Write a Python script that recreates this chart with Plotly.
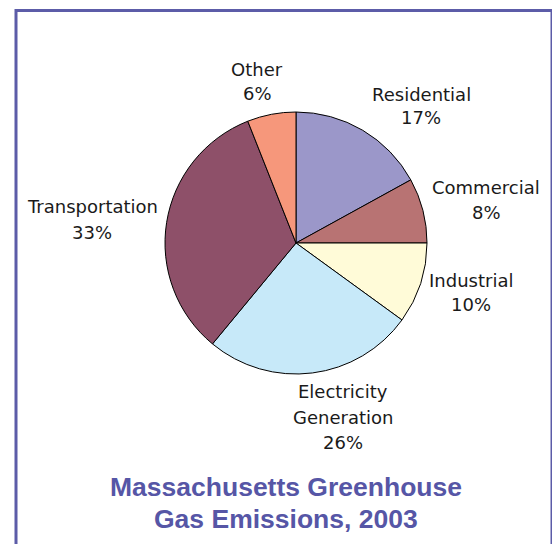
import plotly.graph_objects as go

categories = ["Residential", "Commercial", "Industrial", "Electricity Generation", "Transportation", "Other"]
values = [17, 8, 10, 26, 33, 6]
label_lines = [["Residential", "17%"], ["Commercial", "8%"], ["Industrial", "10%"],
               ["Electricity", "Generation", "26%"], ["Transportation", "33%"], ["Other", "6%"]]
colors = ["#9b97c9", "#b87373", "#fffbd8", "#c7e9f9", "#8e5069", "#f6977b"]
title_lines = ["Massachusetts Greenhouse", "Gas Emissions, 2003"]

W, H = 560, 544
OFF = 8  # page body margin offset
cx, cy, r = 296 - OFF, 243 - OFF, 131

# label positions in reference pixels: x centre, y of each line
label_pos = [(421, [94, 118]), (486, [187, 212]), (471, [280, 304]),
             (343, [391, 417, 442]), (92, [207, 232]), (257, [69, 93])]


def px(x):
    return (x - OFF) / W


def py(y):
    return 1 - (y - OFF) / H


fig = go.Figure()
fig.add_trace(go.Pie(
    labels=categories, values=values, sort=False, direction="clockwise", rotation=0,
    marker=dict(colors=colors, line=dict(color="#000000", width=1)),
    textinfo="none", hoverinfo="label+percent", showlegend=False,
    domain=dict(x=[(cx - r) / W, (cx + r) / W], y=[1 - (cy + r) / H, 1 - (cy - r) / H]),
))

annotations = []
for lines, (x, ys) in zip(label_lines, label_pos):
    for line, y in zip(lines, ys):
        annotations.append(dict(
            x=px(x), y=py(y), xref="paper", yref="paper", text=line, showarrow=False,
            xanchor="center", yanchor="middle", align="center",
            font=dict(family="DejaVu Sans", size=18, color="#1a1a1a"),
        ))
for line, y in zip(title_lines, [487, 519]):
    annotations.append(dict(
        x=px(286), y=py(y), xref="paper", yref="paper", text="<b>" + line + "</b>",
        showarrow=False, xanchor="center", yanchor="middle",
        font=dict(family="Liberation Sans", size=26.5, color="#5656a6"),
    ))

fig.update_layout(
    width=W, height=H, margin=dict(l=0, r=0, t=0, b=0),
    paper_bgcolor="white", plot_bgcolor="white",
    annotations=annotations,
    shapes=[dict(type="rect", xref="paper", yref="paper",
                 x0=px(16), x1=px(552), y0=-0.05, y1=py(10.5),
                 line=dict(color="#5c5ca8", width=3), fillcolor="rgba(0,0,0,0)")],
)
fig.write_html("out.html")
